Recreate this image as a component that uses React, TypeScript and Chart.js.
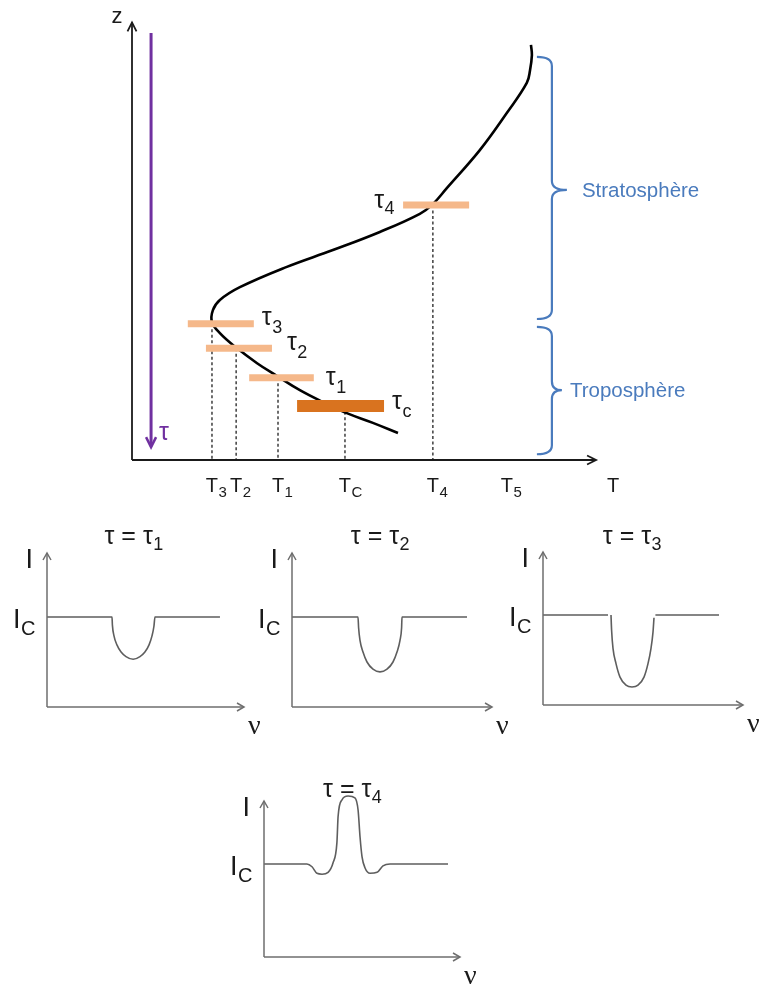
import React, { useEffect, useRef } from "react";
import { Chart, registerables } from "chart.js";

Chart.register(...registerables);

const SANS = '"Liberation Sans", Arial, Helvetica, sans-serif';
const SERIF = '"Liberation Serif", "Times New Roman", serif';

// ---------- Main diagram: temperature profile T(z) ----------
const profileT = [57.2, 51.8, 46.2, 41.1, 36.1, 31.2, 26.9, 22.2, 18.9, 17.2, 17.4, 18.9, 23.2, 33.3, 43.2, 53.3, 61.9, 64.7, 67.7, 74.8, 80.6, 84.9, 85.6, 86.0, 85.8];
const profileZ = [6.1, 8.4, 10.6, 13.1, 15.8, 19.0, 21.9, 25.6, 28.7, 31.2, 33.9, 36.2, 39.1, 43.7, 47.5, 51.6, 55.7, 57.9, 61.5, 70.1, 78.5, 85.3, 88.2, 91.6, 93.9];

// optical-depth levels
const levelSubs = ["3", "2", "1", "c", "4"];
const levelZ = [30.8, 25.3, 18.6, 12.2, 57.7];
const levelTStart = [12.0, 15.9, 25.2, 35.5, 58.3];
const levelTEnd = [26.2, 30.1, 39.1, 54.2, 72.5];

// temperature ticks
const tickSubs = ["3", "2", "1", "C", "4", "5"];
const tickT = [17.2, 22.4, 31.4, 45.8, 64.7, 80.6];
const dropZ = [30.8, 25.3, 18.6, 10.9, 57.7];

// atmospheric layers
const layerNames = ["Stratosphère", "Troposphère"];
const layerTop = [91.2, 30.1];
const layerMid = [61.1, 15.8];
const layerBottom = [31.9, 1.3];
const layerSpineT = 90.3;

// purple tau arrow
const tauArrowT = 4.1;
const tauArrowFrom = 96.6;
const tauArrowTo = 2.9;

// ---------- Line profiles I(nu) ----------
const spec1Nu = [0, 3.30, 3.32, 3.40, 3.55, 3.76, 4.01, 4.37, 4.72, 4.97, 5.18, 5.33, 5.43, 5.48, 8.78];
const spec1I = [1, 1, 0.91, 0.79, 0.69, 0.61, 0.56, 0.53, 0.56, 0.61, 0.69, 0.79, 0.90, 1, 1];

const spec2Nu = [0, 3.30, 3.33, 3.40, 3.55, 3.75, 4.05, 4.40, 4.75, 5.05, 5.25, 5.40, 5.48, 5.50, 8.75];
const spec2I = [1, 1, 0.88, 0.74, 0.61, 0.50, 0.42, 0.39, 0.42, 0.50, 0.61, 0.74, 0.88, 1, 1];

const spec3Nu = [0, 3.25, 3.32, 3.40, 3.43, 3.50, 3.65, 3.85, 4.15, 4.45, 4.75, 5.05, 5.25, 5.40, 5.50, 5.55, 5.58, 5.62, 8.80];
const spec3I = [1, 1, null, 1, 0.83, 0.63, 0.46, 0.31, 0.22, 0.20, 0.22, 0.31, 0.46, 0.63, 0.81, 0.97, null, 1, 1];

const spec4Nu = [0, 2.19, 2.45, 2.70, 2.96, 3.27, 3.52, 3.72, 3.78, 3.98, 4.29, 4.64, 4.80, 4.90, 5.00, 5.15, 5.41, 5.77, 6.07, 6.43, 9.39];
const spec4I = [1, 1, 0.97, 0.90, 0.89, 0.91, 1.01, 1.23, 1.51, 1.69, 1.73, 1.71, 1.58, 1.29, 1.08, 0.96, 0.90, 0.91, 0.98, 1.0, 1.0];

type Panel = {
  nu: number[];
  I: (number | null)[];
  sub: string;
  box: { left: number; top: number; w: number; h: number };
  area: { l: number; r: number; t: number; b: number };
  yMax: number;
  titleNu: number;
  titleDy: number;
};

const panels: Panel[] = [
  { nu: spec1Nu, I: spec1I, sub: "1", box: { left: 0, top: 500, w: 265, h: 250 }, area: { l: 47, r: 244, t: 553, b: 707 }, yMax: 1.711, titleNu: 4.4, titleDy: -9 },
  { nu: spec2Nu, I: spec2I, sub: "2", box: { left: 250, top: 500, w: 265, h: 250 }, area: { l: 292, r: 492, t: 553, b: 707 }, yMax: 1.711, titleNu: 4.4, titleDy: -9 },
  { nu: spec3Nu, I: spec3I, sub: "3", box: { left: 494, top: 500, w: 265, h: 250 }, area: { l: 543, r: 743, t: 552, b: 705 }, yMax: 1.7, titleNu: 4.45, titleDy: -8 },
  { nu: spec4Nu, I: spec4I, sub: "4", box: { left: 200, top: 740, w: 300, h: 248 }, area: { l: 264, r: 460, t: 801, b: 957 }, yMax: 1.677, titleNu: 4.5, titleDy: -4 },
];

// ---------- drawing helpers ----------
function chevron(ctx: CanvasRenderingContext2D, x: number, y: number, dir: "up" | "down" | "right", len: number, half: number) {
  ctx.beginPath();
  if (dir === "up") {
    ctx.moveTo(x - half, y + len); ctx.lineTo(x, y); ctx.lineTo(x + half, y + len);
  } else if (dir === "down") {
    ctx.moveTo(x - half, y - len); ctx.lineTo(x, y); ctx.lineTo(x + half, y - len);
  } else {
    ctx.moveTo(x - len, y - half); ctx.lineTo(x, y); ctx.lineTo(x - len, y + half);
  }
  ctx.stroke();
}

function subText(
  ctx: CanvasRenderingContext2D, base: string, sub: string, x: number, y: number,
  bf: string, sf: string, dy: number, color: string, align: "left" | "center" | "centerBase" | "right"
) {
  ctx.save();
  ctx.fillStyle = color;
  ctx.textAlign = "left";
  ctx.textBaseline = "alphabetic";
  ctx.font = bf;
  const wb = ctx.measureText(base).width;
  ctx.font = sf;
  const ws = ctx.measureText(sub).width;
  let sx = x;
  if (align === "center") sx = x - (wb + ws) / 2;
  else if (align === "centerBase") sx = x - wb / 2;
  else if (align === "right") sx = x - wb - ws;
  ctx.font = bf;
  ctx.fillText(base, sx, y);
  ctx.font = sf;
  ctx.fillText(sub, sx + wb + 0.5, y + dy);
  ctx.restore();
}

function drawBrace(ctx: CanvasRenderingContext2D, xL: number, xS: number, xM: number, yT: number, yM: number, yB: number, r: number) {
  ctx.beginPath();
  ctx.moveTo(xL, yT);
  ctx.quadraticCurveTo(xS, yT, xS, yT + r);
  ctx.lineTo(xS, yM - r);
  ctx.quadraticCurveTo(xS, yM, xM, yM);
  ctx.quadraticCurveTo(xS, yM, xS, yM + r);
  ctx.lineTo(xS, yB - r);
  ctx.quadraticCurveTo(xS, yB, xL, yB);
  ctx.stroke();
}

const mainPlugin = {
  id: "mainDecor",
  afterDatasetsDraw(chart: any) {
    const ctx: CanvasRenderingContext2D = chart.ctx;
    const sx = chart.scales.x;
    const sy = chart.scales.y;
    const X = (v: number) => sx.getPixelForValue(v);
    const Y = (v: number) => sy.getPixelForValue(v);
    ctx.save();
    // axes
    ctx.strokeStyle = "#1a1a1a";
    ctx.lineWidth = 1.8;
    const x0 = X(0), y0 = Y(0);
    ctx.beginPath(); ctx.moveTo(x0, y0); ctx.lineTo(x0, Y(99)); ctx.stroke();
    chevron(ctx, x0, Y(99), "up", 9, 4.5);
    ctx.beginPath(); ctx.moveTo(x0, y0); ctx.lineTo(X(99.8), y0); ctx.stroke();
    chevron(ctx, X(99.8), y0, "right", 9, 4.5);

    // axis labels
    ctx.fillStyle = "#1a1a1a";
    ctx.font = `22px ${SANS}`;
    ctx.textAlign = "center";
    ctx.fillText("z", x0 - 15, Y(99) + 1);
    ctx.font = `20px ${SANS}`;
    ctx.textAlign = "left";
    ctx.fillText("T", X(100) + 10, y0 + 32);

    // tick labels
    tickT.forEach((t, i) => {
      subText(ctx, "T", tickSubs[i], X(t), y0 + 32, `20px ${SANS}`, `15px ${SANS}`, 5, "#1a1a1a", "centerBase");
    });

    // purple tau arrow
    ctx.strokeStyle = "#7030a0";
    ctx.lineWidth = 3;
    ctx.beginPath(); ctx.moveTo(X(tauArrowT), Y(tauArrowFrom)); ctx.lineTo(X(tauArrowT), Y(tauArrowTo) - 1); ctx.stroke();
    ctx.lineWidth = 2.5;
    chevron(ctx, X(tauArrowT), Y(tauArrowTo), "down", 10, 5);
    ctx.fillStyle = "#7030a0";
    ctx.font = `25px ${SANS}`;
    ctx.textAlign = "left";
    ctx.fillText("τ", X(tauArrowT) + 8, Y(tauArrowTo) - 7);

    // level labels
    const dx = [8, 15, 12, 8];
    const dyy = [1, 2, 7, 3];
    levelSubs.forEach((s, i) => {
      if (i < 4) {
        subText(ctx, "τ", s, X(levelTEnd[i]) + dx[i], Y(levelZ[i]) + dyy[i], `25px ${SANS}`, `18px ${SANS}`, 8, "#1a1a1a", "left");
      } else {
        subText(ctx, "τ", s, X(levelTStart[i]) - 9, Y(levelZ[i]) + 3, `25px ${SANS}`, `18px ${SANS}`, 6, "#1a1a1a", "right");
      }
    });

    // braces
    ctx.strokeStyle = "#4a7bbd";
    ctx.lineWidth = 2.2;
    const xs = X(layerSpineT);
    const tipOff = [15, 10];
    const textGap = [15, 8];
    layerNames.forEach((name, i) => {
      drawBrace(ctx, xs - 15, xs, xs + tipOff[i], Y(layerTop[i]), Y(layerMid[i]), Y(layerBottom[i]), 9);
      ctx.fillStyle = "#4a7bbd";
      ctx.font = `20.5px ${SANS}`;
      ctx.textAlign = "left";
      ctx.fillText(name, xs + tipOff[i] + textGap[i], Y(layerMid[i]) + 7);
    });
    ctx.restore();
  },
};

function mainConfig(): any {
  const datasets: any[] = [];
  // bars on top (index 0 drawn last)
  levelSubs.forEach((s, i) => {
    datasets.push({
      data: [{ x: levelTStart[i], y: levelZ[i] }, { x: levelTEnd[i], y: levelZ[i] }],
      showLine: true,
      borderColor: s === "c" ? "#d9731f" : "#f5b88a",
      borderWidth: s === "c" ? 12 : 7,
      borderCapStyle: "butt",
      pointRadius: 0,
      clip: false,
    });
  });
  datasets.push({
    data: profileT.map((t, i) => ({ x: t, y: profileZ[i] })),
    showLine: true,
    borderColor: "#000000",
    borderWidth: 2.6,
    tension: 0.4,
    pointRadius: 0,
    clip: false,
  });
  dropZ.forEach((z, i) => {
    datasets.push({
      data: [{ x: tickT[i], y: z }, { x: tickT[i], y: 0 }],
      showLine: true,
      borderColor: "#4a4a4a",
      borderWidth: 1.6,
      borderDash: [3, 2.5],
      pointRadius: 0,
      clip: false,
    });
  });
  return {
    type: "scatter",
    data: { datasets },
    options: {
      animation: false,
      responsive: false,
      events: [],
      layout: { padding: { left: 132, right: 759 - 597, top: 18, bottom: 500 - 460 } },
      plugins: { legend: { display: false }, tooltip: { enabled: false } },
      scales: {
        x: { type: "linear", min: 0, max: 100, display: false },
        y: { type: "linear", min: 0, max: 100, display: false },
      },
    },
    plugins: [mainPlugin],
  };
}

function panelConfig(p: Panel): any {
  const plugin = {
    id: "panelDecor" + p.sub,
    afterDatasetsDraw(chart: any) {
      const ctx: CanvasRenderingContext2D = chart.ctx;
      const X = (v: number) => chart.scales.x.getPixelForValue(v);
      const Y = (v: number) => chart.scales.y.getPixelForValue(v);
      ctx.save();
      ctx.strokeStyle = "#6e6e6e";
      ctx.lineWidth = 1.5;
      const x0 = X(0), y0 = Y(0), yt = Y(p.yMax), xt = X(10);
      ctx.beginPath(); ctx.moveTo(x0, y0); ctx.lineTo(x0, yt); ctx.stroke();
      chevron(ctx, x0, yt, "up", 7, 4);
      ctx.beginPath(); ctx.moveTo(x0, y0); ctx.lineTo(xt, y0); ctx.stroke();
      chevron(ctx, xt, y0, "right", 7, 4);

      ctx.fillStyle = "#1a1a1a";
      ctx.font = `27px ${SANS}`;
      ctx.textAlign = "right";
      ctx.fillText("I", x0 - 14, yt + 15);
      subText(ctx, "I", "C", x0 - 12, Y(1) + 11, `27px ${SANS}`, `20px ${SANS}`, 7, "#1a1a1a", "right");

      ctx.fillStyle = "#1a1a1a";
      ctx.font = `28px ${SERIF}`;
      ctx.textAlign = "left";
      ctx.fillText("ν", xt + 4, y0 + 27);

      subText(ctx, "τ = τ", p.sub, X(p.titleNu), yt + p.titleDy, `25px ${SANS}`, `18px ${SANS}`, 6, "#1a1a1a", "center");
      ctx.restore();
    },
  };
  return {
    type: "scatter",
    data: {
      datasets: [
        {
          data: p.nu.map((n, i) => ({ x: n, y: p.I[i] })),
          showLine: true,
          spanGaps: false,
          borderColor: "#5e5e5e",
          borderWidth: 1.6,
          cubicInterpolationMode: "monotone",
          pointRadius: 0,
          clip: false,
        },
      ],
    },
    options: {
      animation: false,
      responsive: false,
      events: [],
      layout: {
        padding: {
          left: p.area.l - p.box.left,
          right: p.box.left + p.box.w - p.area.r,
          top: p.area.t - p.box.top,
          bottom: p.box.top + p.box.h - p.area.b,
        },
      },
      plugins: { legend: { display: false }, tooltip: { enabled: false } },
      scales: {
        x: { type: "linear", min: 0, max: 10, display: false },
        y: { type: "linear", min: 0, max: p.yMax, display: false },
      },
    },
    plugins: [plugin],
  };
}

export default function App() {
  const mainRef = useRef<HTMLCanvasElement>(null);
  const p0 = useRef<HTMLCanvasElement>(null);
  const p1 = useRef<HTMLCanvasElement>(null);
  const p2 = useRef<HTMLCanvasElement>(null);
  const p3 = useRef<HTMLCanvasElement>(null);
  const refs = [p0, p1, p2, p3];

  useEffect(() => {
    const charts: Chart[] = [];
    if (mainRef.current) charts.push(new Chart(mainRef.current, mainConfig()));
    panels.forEach((p, i) => {
      const c = refs[i].current;
      if (c) charts.push(new Chart(c, panelConfig(p)));
    });
    return () => charts.forEach((c) => c.destroy());
  }, []);

  return (
    <div style={{ position: "absolute", left: 0, top: 0, width: 759, height: 988, background: "#ffffff", overflow: "hidden" }}>
      <canvas ref={mainRef} width={759} height={500} style={{ position: "absolute", left: 0, top: 0, width: 759, height: 500 }} />
      {panels.map((p, i) => (
        <canvas
          key={i}
          ref={refs[i]}
          width={p.box.w}
          height={p.box.h}
          style={{ position: "absolute", left: p.box.left, top: p.box.top, width: p.box.w, height: p.box.h }}
        />
      ))}
    </div>
  );
}
